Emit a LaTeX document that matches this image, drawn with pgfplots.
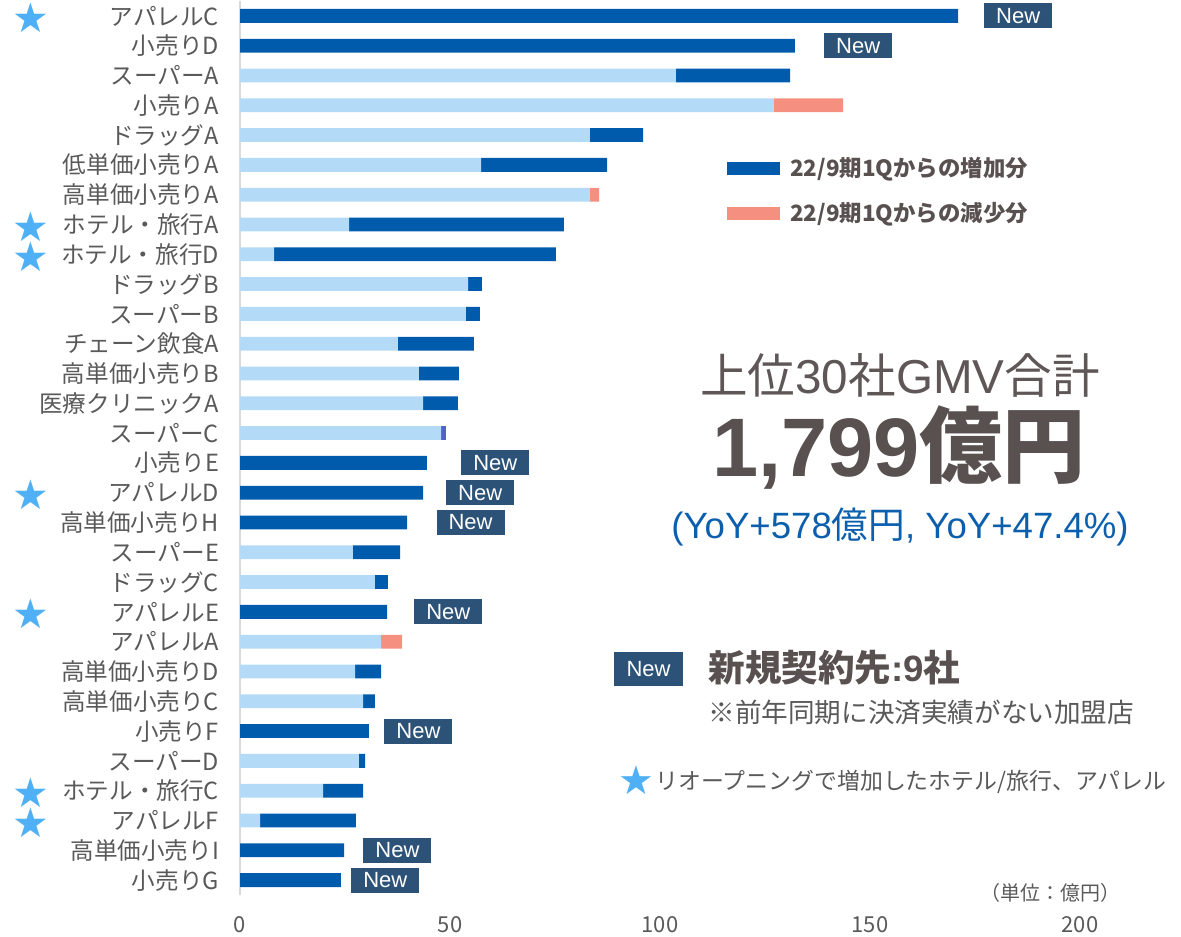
\documentclass[border=0pt]{standalone}
\usepackage{pgfplots}
\pgfplotsset{compat=1.18}
\usepackage{pgfplotstable}
\usepackage{fontspec}
\setmainfont{Noto Sans CJK JP}
\newfontfamily\arialfont{Liberation Sans}
\newfontfamily\symfont{DejaVu Sans}
\definecolor{lightbar}{HTML}{B3DBF7}
\definecolor{incblue}{HTML}{005BAC}
\definecolor{decsalmon}{HTML}{F58F7F}
\definecolor{otherblue}{HTML}{4F63C9}
\definecolor{newbox}{HTML}{2C5277}
\definecolor{starblue}{HTML}{4FB0F5}
\definecolor{labelgray}{HTML}{595959}
\definecolor{darktext}{HTML}{595050}
\definecolor{headtext}{HTML}{5F5757}
\definecolor{yoyblue}{HTML}{0B5FAD}

\pgfplotstableread{
y light inc dec other
30 0 171.0 0 0
29 0 132.1 0 0
28 103.8 27.2 0 0
27 127.1 0 16.5 0
26 83.3 12.7 0 0
25 57.4 30.0 0 0
24 83.3 0 2.2 0
23 26.0 51.1 0 0
22 8.1 67.1 0 0
21 54.3 3.3 0 0
20 53.8 3.3 0 0
19 37.6 18.1 0 0
18 42.6 9.5 0 0
17 43.6 8.3 0 0
16 47.9 0 0 1.1
15 0 44.5 0 0
14 0 43.6 0 0
13 0 39.8 0 0
12 26.9 11.2 0 0
11 32.1 3.1 0 0
10 0 35.0 0 0
9 33.6 0 5.0 0
8 27.4 6.2 0 0
7 29.3 2.8 0 0
6 0 30.7 0 0
5 28.3 1.5 0 0
4 19.8 9.5 0 0
3 4.8 22.8 0 0
2 0 24.8 0 0
1 0 24.0 0 0
}\gmvdata

\begin{document}
\begin{tikzpicture}
\path[use as bounding box] (0,0) rectangle (590.5pt,468pt);
\begin{axis}[
  at={(120pt,20.5pt)}, anchor=south west,
  width=420pt, height=447pt, scale only axis,
  xbar stacked, bar width=6.9pt,
  xmin=0, xmax=200, ymin=0.5, ymax=30.5,
  clip=false,
  axis line style={draw=none},
  major tick length=0pt,
  xtick={0,50,100,150,200},
  ytick={1,...,30},
  yticklabels={小売りG,高単価小売りI,アパレルF,ホテル・旅行C,スーパーD,小売りF,高単価小売りC,高単価小売りD,アパレルA,アパレルE,ドラッグC,スーパーE,高単価小売りH,アパレルD,小売りE,スーパーC,医療クリニックA,高単価小売りB,チェーン飲食A,スーパーB,ドラッグB,ホテル・旅行D,ホテル・旅行A,高単価小売りA,低単価小売りA,ドラッグA,小売りA,スーパーA,小売りD,アパレルC},
  yticklabel style={font=\fontsize{11.8}{12}\selectfont, text=labelgray, xshift=-7pt},
  xticklabel style={font=\fontsize{11}{11}\selectfont, text=labelgray, yshift=-7pt},
  /pgf/number format/assume math mode=true,
  legend style={at={(rel axis cs:0.5798,0.83)}, anchor=north west, draw=none, fill=none,
    font=\fontsize{11.2}{13}\selectfont\bfseries, text=darktext, row sep=7.5pt,
    inner sep=0pt, /tikz/every odd column/.append style={column sep=3pt}},
  legend cell align=left,
]
\addlegendimage{legend image code/.code={\fill[incblue] (0pt,-3pt) rectangle (26pt,3pt);}}
\addlegendentry{22/9期1Qからの増加分}
\addlegendimage{legend image code/.code={\fill[decsalmon] (0pt,-3pt) rectangle (26pt,3pt);}}
\addlegendentry{22/9期1Qからの減少分}

\addplot[fill=lightbar, draw=none] table[x=light, y=y] {\gmvdata};
\addplot[fill=incblue, draw=none] table[x=inc, y=y] {\gmvdata};
\addplot[fill=decsalmon, draw=none] table[x=dec, y=y] {\gmvdata};
\addplot[fill=otherblue, draw=none] table[x=other, y=y] {\gmvdata};

\draw[black!15, line width=1.2pt] (rel axis cs:0,0) -- (rel axis cs:0,1);

% New boxes
\foreach \xx/\yy in {177.1/30, 139.0/29, 52.6/15, 49.0/14, 46.7/13, 41.4/10, 34.3/6, 29.3/2, 26.4/1}{
  \edef\tmp{\noexpand\node[fill=newbox, text=white, minimum width=34pt, minimum height=12.5pt, inner sep=0pt, anchor=west, font=\noexpand\arialfont\noexpand\fontsize{11}{11}\noexpand\selectfont] at (axis cs:\xx,\yy) {New};}
  \tmp
}
% stars
\foreach \yy in {30,23,22,14,10,4,3}{
  \edef\tmp{\noexpand\node[font=\noexpand\symfont\noexpand\fontsize{20.5}{20.5}\noexpand\selectfont, text=starblue, inner sep=0pt, yshift=-1pt] at (axis cs:-49.8,\yy) {★};}
  \tmp
}
\end{axis}

% text block
\node[text=headtext, font=\fontsize{23.8}{26}\selectfont] at (450pt,280.5pt) {上位{\arialfont 30}社{\arialfont GMV}合計};
\node[text=darktext, font=\fontsize{41.5}{44}\selectfont\bfseries] at (449.5pt,244pt) {{\arialfont\bfseries 1,799}億円};
\node[text=yoyblue, font=\fontsize{18.3}{20}\selectfont] at (450pt,204.5pt) {{\arialfont (YoY+578}億円{\arialfont , YoY+47.4\%)}};

\node[fill=newbox, text=white, minimum width=34.5pt, minimum height=17pt, inner sep=0pt, font=\arialfont\fontsize{11}{11}\selectfont] at (324.25pt,133.5pt) {New};
\node[anchor=west, inner sep=0pt, text=darktext, font=\fontsize{18.3}{20}\selectfont\bfseries] at (354pt,134pt) {新規契約先{\arialfont\bfseries :9}社};
\node[anchor=west, inner sep=0pt, text=labelgray, font=\fontsize{13.3}{15}\selectfont] at (354pt,112pt) {※前年同期に決済実績がない加盟店};
\node[inner sep=0pt, text=starblue, font=\symfont\fontsize{20}{20}\selectfont] at (318pt,78pt) {★};
\node[anchor=west, inner sep=0pt, text=labelgray, font=\fontsize{11.45}{13}\selectfont] at (327.5pt,77pt) {リオープニングで増加したホテル/旅行、アパレル};
\node[text=labelgray, font=\fontsize{10}{11}\selectfont] at (525pt,21.5pt) {（単位：億円）};
\end{tikzpicture}
\end{document}
